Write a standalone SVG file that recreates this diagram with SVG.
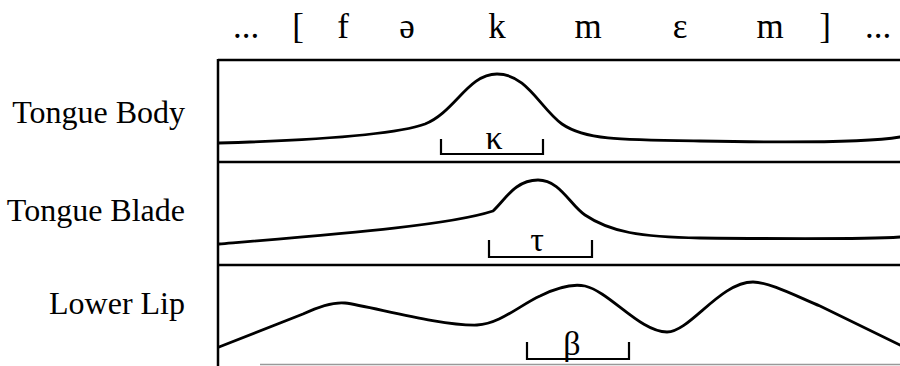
<svg xmlns="http://www.w3.org/2000/svg" width="900" height="366" viewBox="0 0 900 366">
<style>
text{font-family:"Liberation Serif","Times New Roman",serif;fill:#000}
.seg{font-size:35px;text-anchor:middle}
.lab{font-size:32px;text-anchor:end}
.gk{font-size:34px;text-anchor:middle}
.frame{stroke:#000;stroke-width:2.5;fill:none}
.curve{stroke:#000;stroke-width:2.8;fill:none;stroke-linejoin:round;stroke-linecap:round}
.br{stroke:#000;stroke-width:2.2;fill:none}
</style>
<rect width="900" height="366" fill="#fff"/>
<g id="segments">
<text class="seg" x="246" y="38">...</text>
<text class="seg" x="298" y="38">[</text>
<text class="seg" x="343" y="38">f</text>
<text class="seg" x="407" y="38">ə</text>
<text class="seg" x="497" y="38">k</text>
<text class="seg" x="588" y="38">m</text>
<text class="seg" x="680" y="38">ε</text>
<text class="seg" x="770" y="38">m</text>
<text class="seg" x="825" y="38">]</text>
<text class="seg" x="878" y="38">...</text>
</g>
<g id="frame">
<line class="frame" x1="218" y1="60" x2="900" y2="60"/>
<line class="frame" x1="218" y1="59" x2="218" y2="366"/>
<line class="frame" x1="218" y1="162" x2="900" y2="162"/>
<line class="frame" x1="218" y1="265" x2="900" y2="265"/>
<line x1="260" y1="364.5" x2="900" y2="364.5" stroke="#999" stroke-width="1.5"/>
</g>
<g id="tongue-body">
<text class="lab" x="185" y="123">Tongue Body</text>
<path class="curve" d="M219,143 C320,140 395,135 425,124 C455,112 468,74 497,74 C527,74 540,108 562,124 C585,140 620,140 700,141 C800,143 870,142 900,137"/>
<path class="br" d="M441,139 V154 H543 V139"/>
<text class="gk" x="494" y="149">κ</text>
</g>
<g id="tongue-blade">
<text class="lab" x="185" y="221">Tongue Blade</text>
<path class="curve" d="M219,244 C350,233 450,225 493,211 C505,200 515,180 538,180 C560,180 570,205 585,215 C610,232 640,237 700,238 C800,239 870,239 900,237"/>
<path class="br" d="M489,240 V257 H592 V240"/>
<text class="gk" x="537" y="251">τ</text>
</g>
<g id="lower-lip">
<text class="lab" x="185" y="314">Lower Lip</text>
<path class="curve" d="M219,347 L303,314 C320,306 335,302 345,303 C370,306 440,326 477,325 C500,324 520,305 540,296 C560,286 575,284 585,286 C610,292 640,332 667,332 C690,332 720,282 753,282 C770,282 800,298 820,306 L900,345"/>
<path class="br" d="M527,342 V359 H629 V342"/>
<text class="gk" x="572" y="355">β</text>
</g>
</svg>
